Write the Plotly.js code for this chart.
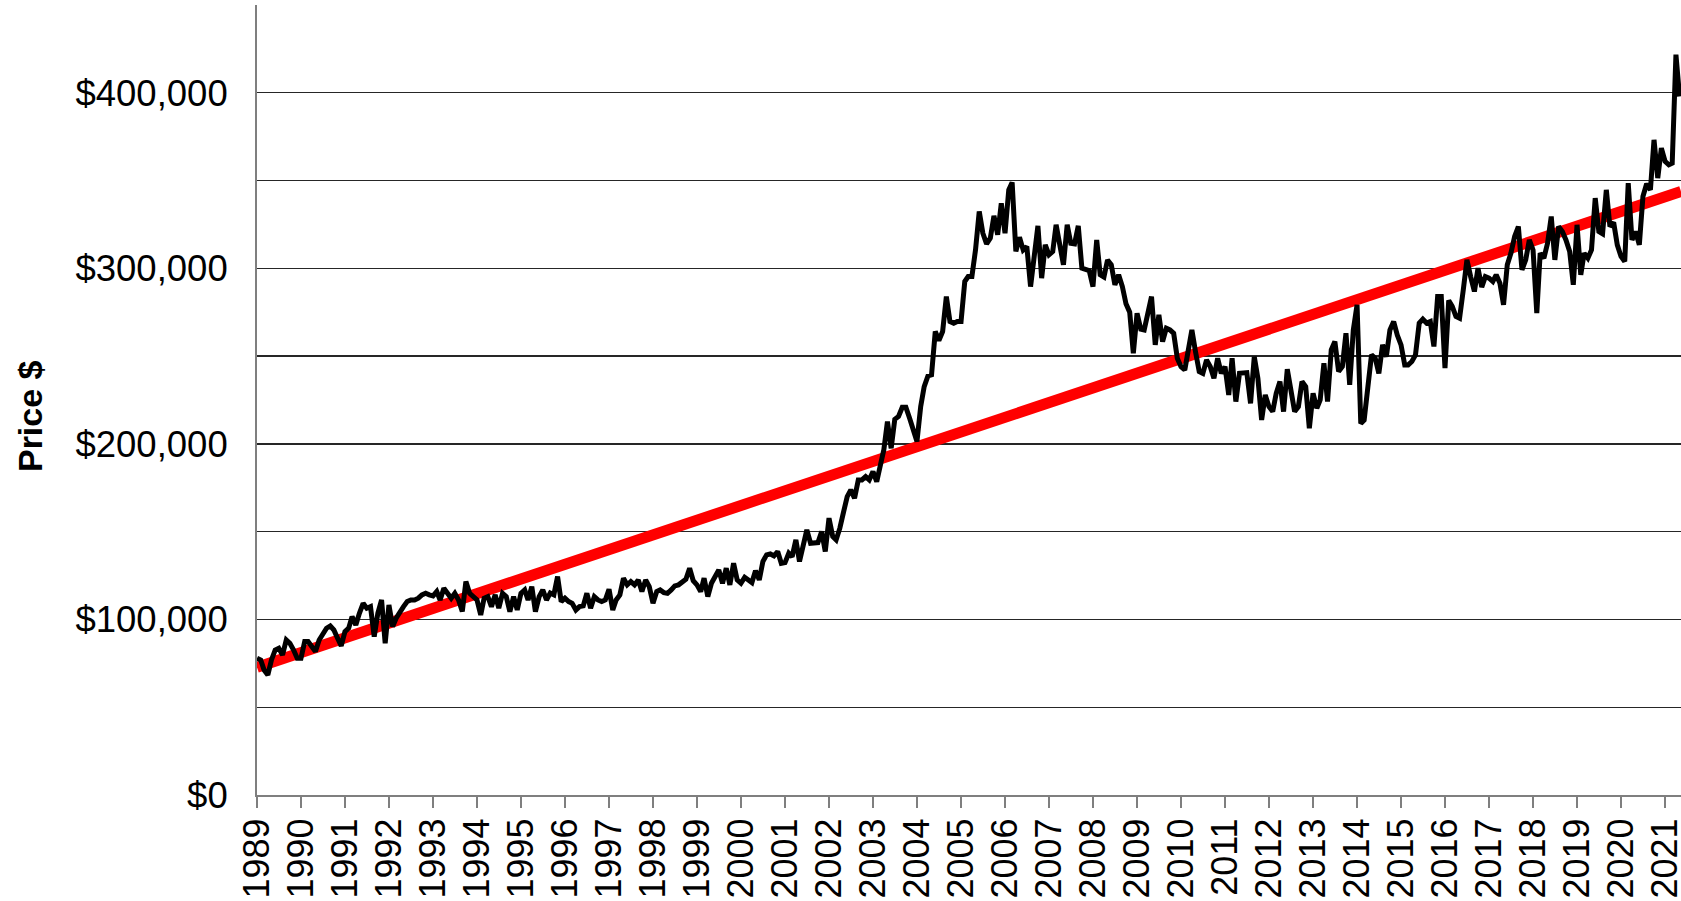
<!DOCTYPE html>
<html>
<head>
<meta charset="utf-8">
<script src="https://cdn.plot.ly/plotly-3.0.1.min.js"></script>
<style>
  html, body { margin: 0; padding: 0; background: #ffffff; }
  #chart { width: 1681px; height: 901px; }
</style>
</head>
<body>
<div id="chart"></div>
<script>
// ---- Data ----
const startYear = 1989;           // first monthly observation: January 1989

// Monthly price, one row per year (Jan..Dec)
const prices = [
  77900, 76900, 71200, 68400, 76900, 82600, 83600, 79800, 88300, 86400, 82600, 77900,      // 1989
  77900, 87400, 87400, 84500, 81700, 88300, 92100, 95000, 96300, 94000, 89300, 84900,      // 1990
  93100, 95000, 101600, 96900, 103500, 109200, 106400, 107300, 90200, 103500, 111100, 86400, // 1991
  108300, 95900, 100700, 104500, 107300, 110200, 111100, 111100, 112100, 114000, 114900, 114000, // 1992
  113400, 115900, 111100, 117800, 114900, 112100, 114900, 111100, 104500, 121600, 114900, 113000, // 1993
  111100, 102600, 112100, 113000, 107300, 114000, 106400, 114900, 113000, 104500, 113000, 105400, // 1994
  114900, 116800, 111100, 118700, 104500, 113000, 116800, 111100, 115000, 114000, 124400, 110200, // 1995
  112100, 110200, 109200, 105400, 107300, 107700, 114900, 106400, 113000, 111100, 110200, 111100, // 1996
  117200, 105400, 111100, 114000, 123500, 119700, 121600, 119700, 122500, 115900, 122500, 118700, // 1997
  109200, 115900, 116800, 115300, 114900, 116800, 119100, 119700, 121600, 122900, 129200, 122100, // 1998
  119700, 115900, 123500, 113000, 120600, 124400, 128200, 120600, 129200, 119700, 132000, 122500, // 1999
  120600, 124000, 122500, 121000, 127800, 122500, 133000, 136800, 137300, 136200, 138700, 132000, // 2000
  132400, 137700, 135800, 145300, 133000, 142500, 151000, 143400, 143400, 143800, 150100, 138700, // 2001
  157700, 147200, 145300, 152000, 161000, 170000, 173800, 169000, 179500, 179500, 181400, 179500, // 2002
  184200, 178500, 187100, 196600, 212700, 197500, 214000, 215600, 220900, 220900, 214600, 207000, // 2003
  201300, 221300, 232600, 238700, 239300, 264000, 258900, 264000, 283900, 269700, 268700, 269700, // 2004
  269700, 292500, 295300, 295300, 310500, 332400, 320000, 313900, 317200, 329900, 319100, 337100, // 2005
  320000, 344700, 348900, 309600, 317700, 310500, 312400, 289600, 310500, 324200, 294400, 313400, // 2006
  307700, 309600, 324800, 311500, 302000, 324800, 314300, 313900, 324200, 300100, 299100, 298700, // 2007
  289600, 316200, 296300, 295000, 304800, 302000, 290600, 296300, 289600, 279800, 275000, 251600, // 2008
  274400, 265300, 264900, 276300, 283900, 256400, 273500, 258300, 265900, 264900, 263000, 248800, // 2009
  244000, 242100, 253500, 264900, 252600, 241200, 240200, 247800, 244000, 237400, 248800, 240200, // 2010
  244000, 227900, 248800, 224100, 240200, 240200, 240600, 223100, 249700, 237400, 213600, 227900, // 2011
  221200, 218400, 228800, 235500, 218400, 242500, 231100, 218400, 221200, 235500, 232600, 208900, // 2012
  228800, 220300, 225000, 245900, 224100, 253500, 258300, 241200, 244000, 263000, 233600, 264900, // 2013
  279200, 211700, 213600, 232600, 250700, 248800, 240200, 256400, 249700, 264900, 269700, 262000, // 2014
  256400, 245000, 245000, 246900, 250700, 268800, 271000, 268800, 269700, 255500, 284000, 284000, // 2015
  243100, 281700, 278300, 272600, 271600, 287800, 304800, 295300, 286800, 300100, 289300, 295300, // 2016
  294400, 292500, 296300, 291500, 279200, 302000, 308600, 318100, 323800, 299100, 304800, 316200, // 2017
  310500, 274500, 308600, 305800, 314300, 329500, 304800, 323800, 321000, 316200, 309600, 290600, // 2018
  324800, 296300, 308600, 305800, 310500, 340000, 321000, 319700, 344700, 323800, 326100, 313400, // 2019
  306800, 303900, 348500, 316200, 321000, 313400, 340900, 348200, 344700, 373200, 351400, 368500, // 2020
  360900, 359000, 359900, 421700, 397900                                                        // 2021
];

// Straight trend line (two end points)
const trendDates  = ['1989-01-01', '2021-05-13'];
const trendValues = [72800, 343800];

// Axis ticks
const yearLabels = [];
for (let y = 1989; y <= 2021; y++) yearLabels.push(String(y));
const yTickVals = [0, 50000, 100000, 150000, 200000, 250000, 300000, 350000, 400000];
const yTickText = ['$0', '', '$100,000', '', '$200,000', '', '$300,000', '', '$400,000'];
const yTitle = 'Price $';

// ---- Build traces ----
const dates = prices.map((_, i) => {
  const y = startYear + Math.floor(i / 12);
  const m = (i % 12) + 1;
  return y + '-' + (m < 10 ? '0' + m : m) + '-01';
});
const xTickVals = yearLabels.map(y => y + '-01-01');

const FONT = 'Liberation Sans, Arial, Helvetica, sans-serif';

const trend = {
  x: trendDates, y: trendValues, type: 'scatter', mode: 'lines',
  line: { color: '#ff0000', width: 11 }, hoverinfo: 'skip', name: 'Trend'
};
const price = {
  x: dates, y: prices, type: 'scatter', mode: 'lines',
  line: { color: '#000000', width: 5 }, name: 'Price'
};

const layout = {
  width: 1681, height: 901,
  margin: { l: 257, r: 0, t: 5, b: 106, pad: 0 },
  paper_bgcolor: '#ffffff', plot_bgcolor: '#ffffff',
  showlegend: false,
  font: { family: FONT, color: '#000000' },
  xaxis: {
    type: 'date',
    range: ['1989-01-01', '2021-05-13'],
    tickmode: 'array', tickvals: xTickVals, ticktext: yearLabels,
    tickangle: -90,
    ticks: 'outside', ticklen: 11, tickwidth: 1.5, tickcolor: '#7f7f7f',
    ticklabeloverflow: 'allow',
    ticklabelstandoff: -4,
    showline: true, linecolor: '#7f7f7f', linewidth: 2,
    showgrid: false, zeroline: false,
    tickfont: { family: FONT, size: 36, color: '#000000' },
    fixedrange: true
  },
  yaxis: {
    range: [0, 450000],
    tickmode: 'array', tickvals: yTickVals, ticktext: yTickText,
    ticks: '', ticklabelstandoff: 20,
    showline: true, linecolor: '#7f7f7f', linewidth: 2,
    showgrid: true, gridcolor: '#262626', gridwidth: 1.3,
    zeroline: false,
    tickfont: { family: FONT, size: 36.5, color: '#000000' },
    fixedrange: true
  },
  annotations: [{
    text: '<b>' + yTitle + '</b>', textangle: -90,
    xref: 'paper', yref: 'paper',
    x: -0.1594, y: 0.4797, xanchor: 'center', yanchor: 'middle',
    showarrow: false,
    font: { family: FONT, size: 34, color: '#000000' }
  }]
};

Plotly.newPlot('chart', [trend, price], layout, { staticPlot: true, displayModeBar: false });
</script>
</body>
</html>
